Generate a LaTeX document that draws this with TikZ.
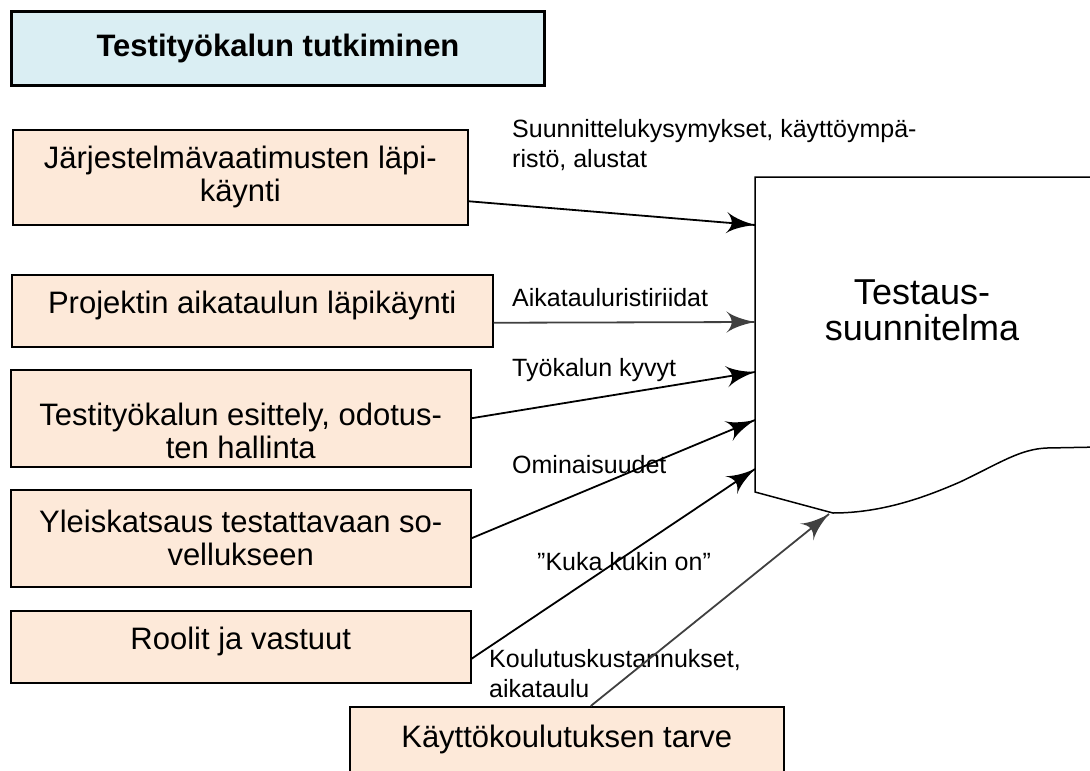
\documentclass[tikz,border=0pt]{standalone}
\usepackage{fontspec}
\setmainfont{Liberation Sans}
\usepackage{tikz}
\usetikzlibrary{arrows}
\usetikzlibrary{decorations.markings}
\usetikzlibrary{positioning}
\definecolor{peach}{HTML}{FDE9D9}
\definecolor{paleblue}{HTML}{DAEEF3}
\tikzset{feed/.style = {line width=1.8pt,
                        decoration={markings,
                                    mark=at position 1 with {\arrow[scale=3.5]{latex'}}},
                        postaction={decorate}}}
\tikzset{task/.style = {draw, line width=1.5pt, fill=peach, anchor=north west,
                        align=center, inner sep=0pt, font=\fontsize{31}{33}\selectfont}}
\tikzset{note/.style = {anchor=west, align=left, inner sep=0pt,
                        font=\fontsize{25}{30}\selectfont}}

\begin{document}
\begin{tikzpicture}[x=1pt, y=-1pt]
      \useasboundingbox (0,0) rectangle (1090,771);
      \clip (0,0) rectangle (1090,771);

      \node [draw, line width=3pt, fill=paleblue, anchor=north west,
             minimum width=533pt, minimum height=74pt,
             font=\bfseries\fontsize{31}{36}\selectfont] (topic) at (10,10) {Testityökalun tutkiminen};

      \node [task, minimum width=455pt, minimum height=95pt] (review) at (12,129) {Järjestelmävaatimusten läpi-\\käynti};
      \node [task, minimum width=481pt, minimum height=72pt, text height=22pt, text depth=16pt] (schedule) at (11,274) {Projektin aikataulun läpikäynti};
      \node [task, minimum width=460pt, minimum height=97pt, text height=81pt, text depth=0pt] (intro) at (10,369) {Testityökalun esittely, odotus-\\ten hallinta};
      \node [task, minimum width=460pt, minimum height=97pt] (overview) at (10,489) {Yleiskatsaus testattavaan so-\\vellukseen};
      \node [task, minimum width=460pt, minimum height=72pt, text height=22pt, text depth=16pt] (roles) at (10,610) {Roolit ja vastuut};
      \node [task, minimum width=434pt, inner ysep=18pt, text depth=60pt] (training) at (349,706) {Käyttökoulutuksen tarve};

      % the plan sheet with its torn lower edge
      \draw [line width=1.5pt, fill=white] (1100,177) -- (755,177) -- (755,492) -- (833,513)
            .. controls (885,513) and (930,495) .. (960,482)
            .. controls (1000,463) and (1020,449) .. (1047,448) -- (1100,447);
      \node [align=center, font=\fontsize{36}{36}\selectfont] (plan) at (922,310) {Testaus-\\suunnitelma};

      \coordinate (in1) at (755,225);
      \coordinate (in2) at (755,322);
      \coordinate (in3) at (755,372);
      \coordinate (in4) at (755,420);
      \coordinate (in5) at (755,469);
      \coordinate (in6) at (829,514);

      \node [note] (asks) at (512,145) {Suunnittelukysymykset, käyttöympä-\\ristö, alustat};
      \node [note] (clash) at (512,298) {Aikatauluristiriidat};
      \node [note] (skills) at (512,370) {Työkalun kyvyt};
      \node [note] (features) at (512,465) {Ominaisuudet};
      \node [note] (who) at (537,562) {”Kuka kukin on”};
      \node [note] (costs) at (489,674) {Koulutuskustannukset,\\aikataulu};

      \draw [feed] ([yshift=-24pt]review.east) -- (in1);
      \draw [feed, color=darkgray] ([yshift=-12pt]schedule.east) -- (in2);
      \draw [feed] (intro.east) -- (in3);
      \draw [feed] (overview.east) -- (in4);
      \draw [feed] ([yshift=-12pt]roles.east) -- (in5);
      \draw [feed, color=darkgray] ([xshift=24pt]training.north) -- (in6);
    \end{tikzpicture}
\end{document}
